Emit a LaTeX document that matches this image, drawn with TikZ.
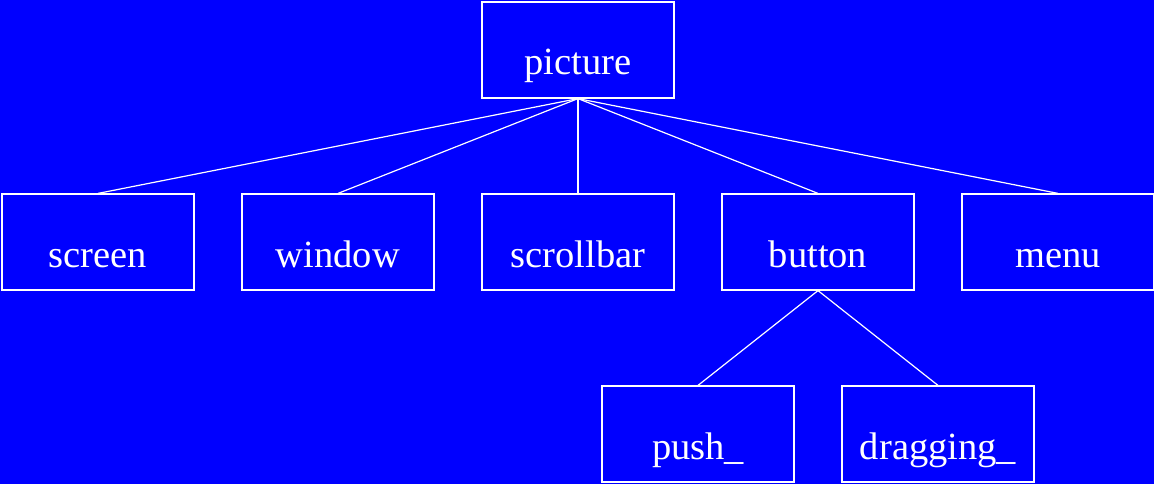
\documentclass[tikz,border=0pt]{standalone}
\usepackage{fontspec}
\setmainfont{Liberation Serif}
\definecolor{bgblue}{RGB}{0,0,255}
\begin{document}
\begin{tikzpicture}[x=1pt,y=-1pt,
  box/.style={draw=white,line width=1.2pt,rectangle,inner sep=0pt,
    minimum width=192pt,minimum height=96pt,text width=192pt,align=center,
    text height=73pt,text depth=23pt,text=white,
    font=\fontsize{38.5}{40}\selectfont},
  link/.style={draw=white,line width=1.2pt}]
\fill[bgblue] (0,0) rectangle (1154,484);
\useasboundingbox (0,0) rectangle (1154,484);
\node[box] (picture) at (578,50) {picture};
\node[box] (screen) at (98,242) {screen};
\node[box] (window) at (338,242) {window};
\node[box] (scrollbar) at (578,242) {scrollbar};
\node[box] (button) at (818,242) {button};
\node[box] (menu) at (1058,242) {menu};
\node[box] (push) at (698,434) {push\_};
\node[box] (dragging) at (938,434) {dragging\_};
\foreach \c in {screen,window,scrollbar,button,menu}
  \draw[link] (picture.south) -- (\c.north);
\foreach \c in {push,dragging}
  \draw[link] (button.south) -- (\c.north);
\end{tikzpicture}
\end{document}
